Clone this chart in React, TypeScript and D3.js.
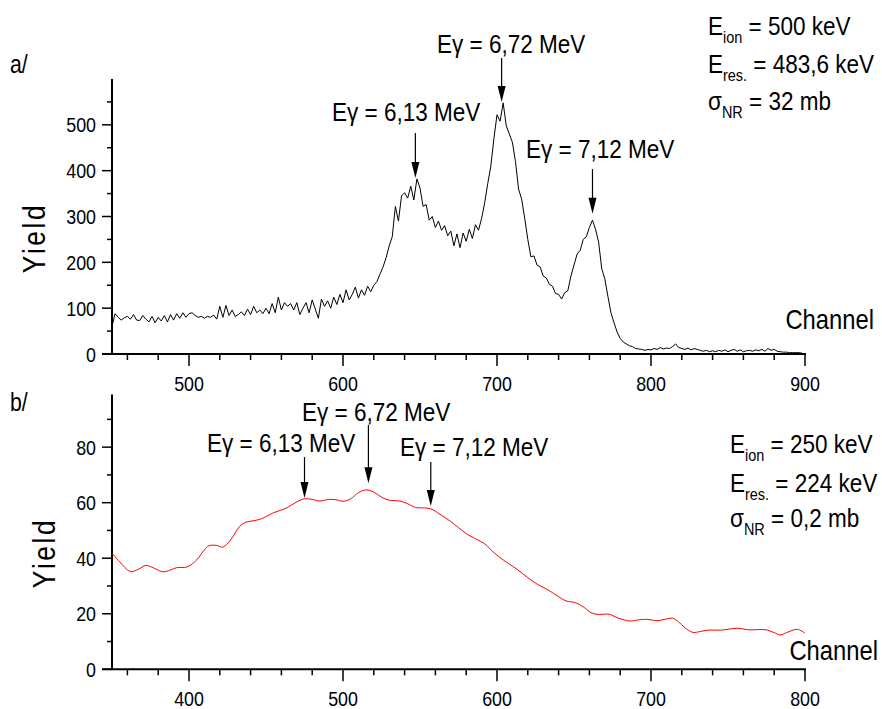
import React from "react";
import * as d3 from "d3";

// ---------- DATA ----------
const topStartChannel = 450;
const topChannelStep = 2;
const topYield = [
  60, 88, 80, 74, 79, 82, 76, 86, 74, 73, 84, 76, 70, 82, 68, 80, 72, 84, 70, 86, 74, 88, 78, 90, 80,
  88, 90, 84, 80, 82, 78, 82, 80, 85, 76, 104, 80, 106, 84, 96, 82, 86, 92, 84, 98, 86, 104, 90, 96, 88,
  100, 88, 110, 90, 124, 96, 112, 104, 110, 96, 112, 86, 100, 112, 90, 118, 98, 78, 120, 104, 116, 100, 124, 108, 130,
  112, 140, 118, 130, 146, 122, 140, 128, 148, 136, 150, 158, 174, 190, 210,
  236, 256, 322, 290, 345, 352, 340, 366, 336, 382, 362, 322, 326, 292, 300, 276, 290, 270, 280, 258, 268, 236, 262, 232, 264,
  246, 272, 252, 282, 270, 296, 330, 372, 410, 470,
  522, 508, 548, 498, 480, 462, 420, 360, 338, 296, 250, 212, 214, 194, 190, 170, 166, 152, 148, 132, 130, 120, 134, 138, 170,
  194, 218, 226, 250, 256, 276, 292, 272, 244, 186, 164, 126, 90, 68, 48, 34, 26, 22, 18, 16, 12, 11, 10, 8, 10,
  9, 12, 10, 14, 11, 13, 12, 16, 22, 14, 12, 10, 13, 9, 12, 10, 8, 6, 8, 5, 7, 5, 8, 6, 9,
  5, 8, 10, 6, 9, 5, 7, 8, 6, 9, 7, 10, 6, 12, 8, 10, 6, 5, 4, 4, 3, 3, 3, 3, 2,
];

const bottomChannels = [
  350, 355, 362, 367, 372, 377, 383, 388, 392, 399, 405, 410, 413, 418, 422, 427, 433, 437, 442, 447,
  455, 463, 470, 475, 480, 485, 491, 496, 500, 505, 510, 515, 520, 525, 530, 537, 542, 547, 553, 557,
  563, 570, 580, 586, 592, 598, 604, 613, 620, 626, 634, 639, 645, 651, 656, 661, 665, 673, 678, 686,
  692, 697, 704, 709, 714, 718, 722, 727, 732, 737, 745, 750, 756, 764, 770, 775, 780, 784, 788, 795, 800,
];
const bottomYield = [
  41.8, 38.7, 35.2, 36.0, 37.4, 36.5, 35.1, 35.8, 36.6, 36.9, 39.4, 43.0, 44.5, 44.6, 44.0, 46.6, 51.5, 53.0, 53.5, 54.2,
  56.4, 58.0, 60.3, 61.4, 61.2, 60.6, 61.2, 61.0, 60.5, 61.4, 63.6, 64.6, 63.8, 62.0, 60.9, 60.6, 59.6, 58.3, 58.1, 57.8,
  55.8, 53.2, 48.9, 47.0, 45.2, 42.0, 39.4, 36.0, 33.0, 30.7, 28.3, 26.5, 24.6, 24.0, 22.5, 20.4, 19.8, 19.8, 18.6, 17.4,
  17.8, 18.0, 17.5, 18.0, 18.4, 17.0, 15.0, 13.3, 13.6, 14.1, 14.1, 14.4, 14.8, 14.2, 14.3, 14.2, 13.2, 12.4, 13.2, 14.4, 13.0,
];

const topXTickLabels = [500, 600, 700, 800, 900];
const topYTickLabels = [0, 100, 200, 300, 400, 500];
const bottomXTickLabels = [400, 500, 600, 700, 800];
const bottomYTickLabels = [0, 20, 40, 60, 80];

const peakLabels = ["Eγ = 6,13 MeV", "Eγ = 6,72 MeV", "Eγ = 7,12 MeV"];
const topPeakChannels = [647, 703, 762];
const topArrowTipYield = [384, 550, 306];
const bottomPeakChannels = [475, 516.5, 557];
const bottomArrowTipYield = [61.7, 67, 58.8];

const topInfo = [
  { main: "E", sub: "ion", rest: " = 500 keV" },
  { main: "E", sub: "res.", rest: " = 483,6 keV" },
  { main: "σ", sub: "NR", rest: " = 32 mb" },
];
const bottomInfo = [
  { main: "E", sub: "ion", rest: " = 250 keV" },
  { main: "E", sub: "res.", rest: " = 224 keV" },
  { main: "σ", sub: "NR", rest: " = 0,2 mb" },
];

const FONT = "'Liberation Sans',Arial,sans-serif";
const SX = 0.85; // horizontal condensing to mimic a narrow face

function T(props: {
  x: number;
  y: number;
  size: number;
  anchor?: "start" | "middle" | "end";
  rotate?: number;
  letterSpacing?: number;
  children: React.ReactNode;
}) {
  const rot = props.rotate ? ` rotate(${props.rotate})` : "";
  return (
    <text
      transform={`translate(${props.x},${props.y})${rot} scale(${SX},1)`}
      textAnchor={props.anchor || "start"}
      fontFamily={FONT}
      fontSize={props.size}
      letterSpacing={props.letterSpacing}
      fill="#000"
    >
      {props.children}
    </text>
  );
}

type PanelProps = {
  xDomain: [number, number];
  yDomain: [number, number];
  yRange: [number, number];
  xMinorStep: number;
  yMinorStep: number;
  yMinorMax: number;
  xLabels: number[];
  yLabels: number[];
  xs: number[];
  ys: number[];
  color: string;
  smooth: boolean;
  peakCh: number[];
  tipY: number[];
  labelPos: [number, number][];
  tailY: number[];
  info: { main: string; sub: string; rest: string }[];
  infoX: number;
  infoY: number[];
  panelLabel: string;
  panelLabelY: number;
  yieldX: number;
  yieldY: number;
  channelY: number;
  channelX: number;
  xLabelY: number;
};

function Panel(p: PanelProps) {
  const x = d3.scaleLinear().domain(p.xDomain).range([112, 805]);
  const y = d3.scaleLinear().domain(p.yDomain).range(p.yRange);
  const y0 = y(0);
  const pts = p.xs.map((c, i) => [c, p.ys[i]] as [number, number]);
  const line = d3
    .line<[number, number]>()
    .x((d) => x(d[0]))
    .y((d) => y(d[1]))
    .curve(p.smooth ? d3.curveCatmullRom.alpha(0.5) : d3.curveLinear);

  const xTicks = d3.range(p.xDomain[0] + p.xMinorStep / 2, p.xDomain[1] + 0.01, p.xMinorStep);
  const yTicks = d3.range(0, p.yMinorMax + 0.01, p.yMinorStep);
  const majorX = new Set(p.xLabels);
  const majorY = new Set(p.yLabels);

  return (
    <g>
      <T x={10} y={p.panelLabelY} size={25}>
        {p.panelLabel}
      </T>
      <T x={p.yieldX} y={p.yieldY} size={31} anchor="middle" rotate={-90} letterSpacing={3}>
        Yield
      </T>
      <T x={p.channelX} y={p.channelY} size={28} anchor="end">
        Channel
      </T>
      {/* axes */}
      <line x1={112} x2={112} y1={y0} y2={y(p.yDomain[1])} stroke="#000" strokeWidth={2} />
      <line x1={102} x2={806} y1={y0} y2={y0} stroke="#000" strokeWidth={2} />
      {xTicks.map((t) => (
        <line
          key={"xt" + t}
          x1={x(t)}
          x2={x(t)}
          y1={y0}
          y2={y0 + (majorX.has(t) ? 12 : 6)}
          stroke="#000"
          strokeWidth={1.5}
        />
      ))}
      {yTicks.map((t) => (
        <line
          key={"yt" + t}
          x1={112 - (majorY.has(t) ? 10 : 5)}
          x2={112}
          y1={y(t)}
          y2={y(t)}
          stroke="#000"
          strokeWidth={1.5}
        />
      ))}
      {p.xLabels.map((t) => (
        <T key={"xl" + t} x={x(t)} y={p.xLabelY} size={21} anchor="middle">
          {t}
        </T>
      ))}
      {p.yLabels.map((t) => (
        <T key={"yl" + t} x={96} y={y(t) + 7.5} size={21} anchor="end">
          {t}
        </T>
      ))}
      <path d={line(pts) || ""} fill="none" stroke={p.color} strokeWidth={1} />
      {/* peak annotations */}
      {peakLabels.map((lab, i) => {
        const ax = x(p.peakCh[i]);
        const tip = y(p.tipY[i]);
        return (
          <g key={"pk" + i}>
            <T x={p.labelPos[i][0]} y={p.labelPos[i][1]} size={26.5}>
              {lab}
            </T>
            <line x1={ax} x2={ax} y1={p.tailY[i]} y2={tip - 12} stroke="#000" strokeWidth={1.2} />
            <polygon points={`${ax},${tip} ${ax - 4},${tip - 16} ${ax + 4},${tip - 16}`} fill="#000" />
          </g>
        );
      })}
      {p.info.map((r, i) => (
        <T key={"in" + i} x={p.infoX} y={p.infoY[i]} size={26.5}>
          <tspan>{r.main}</tspan>
          <tspan fontSize={17} dy={8}>
            {r.sub}
          </tspan>
          <tspan dy={-8}>{r.rest}</tspan>
        </T>
      ))}
    </g>
  );
}

export default function App() {
  const topChannels = topYield.map((_, i) => topStartChannel + i * topChannelStep);
  return (
    <svg
      width={882}
      height={709}
      style={{ position: "absolute", left: 0, top: 0, background: "#fff" }}
    >
      <rect width={882} height={709} fill="#fff" />
      <Panel
        xDomain={[450, 900]}
        yDomain={[0, 600]}
        yRange={[354, 79]}
        xMinorStep={20}
        yMinorStep={50}
        yMinorMax={550}
        xLabels={topXTickLabels}
        yLabels={topYTickLabels}
        xs={topChannels}
        ys={topYield}
        color="#000"
        smooth={false}
        peakCh={topPeakChannels}
        tipY={topArrowTipYield}
        labelPos={[
          [332, 121],
          [437, 53],
          [526, 158],
        ]}
        tailY={[133, 58, 169]}
        info={topInfo}
        infoX={708}
        infoY={[35, 73, 110]}
        panelLabel="a/"
        panelLabelY={73}
        yieldX={45}
        yieldY={238}
        channelY={329}
        channelX={874}
        xLabelY={391}
      />
      <Panel
        xDomain={[350, 800]}
        yDomain={[0, 99]}
        yRange={[669.3, 669.3 - 99 * 2.777]}
        xMinorStep={20}
        yMinorStep={10}
        yMinorMax={90}
        xLabels={bottomXTickLabels}
        yLabels={bottomYTickLabels}
        xs={bottomChannels}
        ys={bottomYield}
        color="#ff0000"
        smooth={true}
        peakCh={bottomPeakChannels}
        tipY={bottomArrowTipYield}
        labelPos={[
          [207, 452],
          [302, 421],
          [400, 456],
        ]}
        tailY={[457, 425, 462]}
        info={bottomInfo}
        infoX={730}
        infoY={[453, 492, 527]}
        panelLabel="b/"
        panelLabelY={411}
        yieldX={55}
        yieldY={553}
        channelY={660}
        channelX={878}
        xLabelY={706}
      />
    </svg>
  );
}
